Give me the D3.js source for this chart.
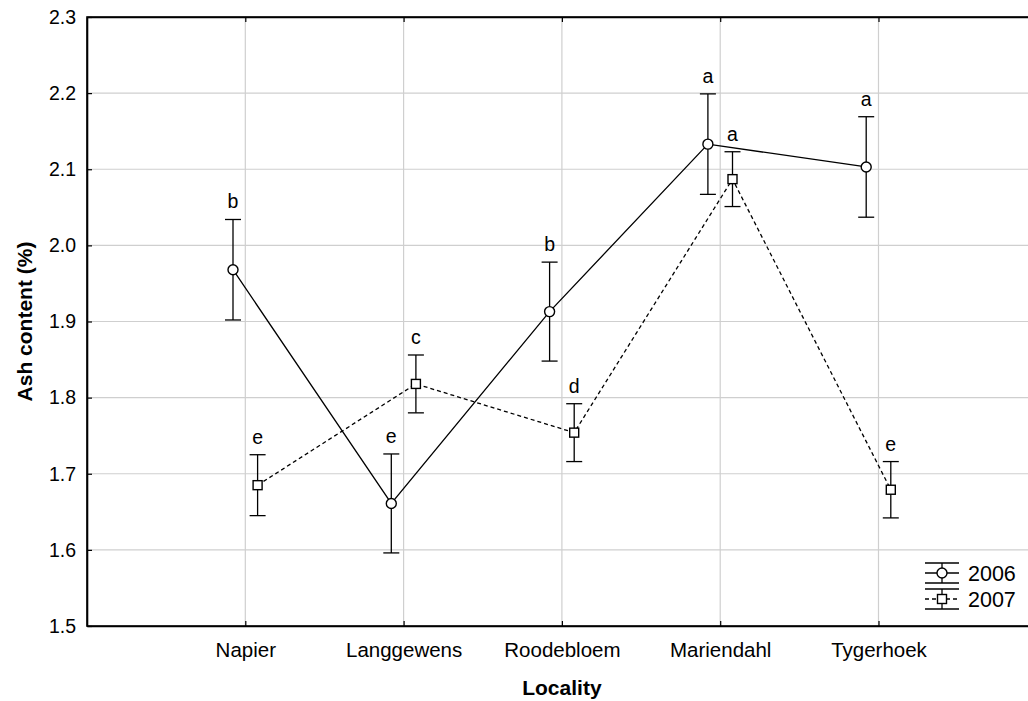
<!DOCTYPE html>
<html>
<head>
<meta charset="utf-8">
<script src="https://cdn.jsdelivr.net/npm/d3@7"></script>
<style>
  html, body { margin: 0; padding: 0; background: #fff; }
  svg { display: block; font-family: "Liberation Sans", Arial, sans-serif; }
</style>
</head>
<body>
<svg id="chart" width="1028" height="701"></svg>
<script>
// Localities along the x axis
const localities = ["Napier", "Langgewens", "Roodebloem", "Mariendahl", "Tygerhoek"];
const years = ["2006", "2007"];

// Mean ash content (%) per locality
const mean2006 = [1.968, 1.661, 1.913, 2.133, 2.103];
const mean2007 = [1.685, 1.818, 1.754, 2.087, 1.679];

// Error bar half-widths
const err2006 = [0.066, 0.065, 0.065, 0.066, 0.066];
const err2007 = [0.040, 0.038, 0.038, 0.036, 0.037];

// Significance letters above each bar
const letters2006 = ["b", "e", "b", "a", "a"];
const letters2007 = ["e", "c", "d", "a", "e"];

const yTicks = [1.5, 1.6, 1.7, 1.8, 1.9, 2.0, 2.1, 2.2, 2.3];

(function draw() {
  const svg = d3.select("#chart");
  const plotLeft = 87, plotTop = 17, plotBottom = 626;
  const step = 158.3;
  const plotRight = plotLeft + step * (localities.length + 1);

  const x = d3.scaleLinear().domain([0, localities.length + 1]).range([plotLeft, plotRight]);
  const y = d3.scaleLinear().domain([1.5, 2.3]).range([plotBottom, plotTop]);
  const offset = 12.3;

  // grid
  const grid = svg.append("g");
  grid.selectAll("line.h").data(yTicks.slice(1, -1)).join("line")
    .attr("x1", plotLeft).attr("x2", plotRight)
    .attr("y1", d => y(d)).attr("y2", d => y(d))
    .attr("stroke", "#cfcfcf").attr("stroke-width", 1.2);
  grid.selectAll("line.v").data(localities).join("line")
    .attr("x1", (d, i) => x(i + 1)).attr("x2", (d, i) => x(i + 1))
    .attr("y1", plotTop).attr("y2", plotBottom)
    .attr("stroke", "#cfcfcf").attr("stroke-width", 1.2);

  // axes (ticks pointing inward)
  const yAxis = d3.axisLeft(y).tickValues(yTicks).tickFormat(d3.format(".1f"))
    .tickSizeInner(-5).tickSizeOuter(0).tickPadding(11);
  const gy = svg.append("g").attr("transform", `translate(${plotLeft},0)`).call(yAxis);
  gy.selectAll("text").attr("font-size", 19.5).attr("fill", "#000");

  const xAxis = d3.axisBottom(x).tickValues(d3.range(1, localities.length + 1))
    .tickFormat(d => localities[d - 1]).tickSizeInner(-5).tickSizeOuter(0).tickPadding(14);
  const gx = svg.append("g").attr("transform", `translate(0,${plotBottom})`).call(xAxis);
  gx.selectAll("text").attr("font-size", 20.5).attr("fill", "#000").attr("dy", "0.85em");

  const xTop = d3.axisTop(x).tickValues(d3.range(1, localities.length + 1)).tickFormat("")
    .tickSizeInner(-5).tickSizeOuter(0);
  const gt = svg.append("g").attr("transform", `translate(0,${plotTop})`).call(xTop);

  [gy, gx, gt].forEach(g => g.selectAll("line").attr("stroke", "#000").attr("stroke-width", 1.2));
  svg.selectAll(".domain").attr("stroke", "#000").attr("stroke-width", 1.6);

  // frame
  svg.append("rect").attr("x", plotLeft).attr("y", plotTop)
    .attr("width", plotRight - plotLeft).attr("height", plotBottom - plotTop)
    .attr("fill", "none").attr("stroke", "#000").attr("stroke-width", 1.6);

  // axis titles
  svg.append("text").attr("x", (plotLeft + plotRight) / 2).attr("y", 688).attr("dy", "0.35em")
    .attr("text-anchor", "middle").attr("font-size", 21).attr("font-weight", "bold").text("Locality");
  svg.append("text").attr("transform", `translate(25,${(plotTop + plotBottom) / 2}) rotate(-90)`)
    .attr("dy", "0.35em").attr("text-anchor", "middle").attr("font-size", 21)
    .attr("font-weight", "bold").text("Ash content (%)");

  const series = [
    { means: mean2006, errs: err2006, letters: letters2006, dx: -offset, dash: null, shape: "circle" },
    { means: mean2007, errs: err2007, letters: letters2007, dx: offset, dash: "4,3", shape: "square" }
  ];

  const line = d3.line().x(d => d[0]).y(d => d[1]);

  function marker(g, shape, cx, cy) {
    if (shape === "circle") {
      g.append("circle").attr("cx", cx).attr("cy", cy).attr("r", 5)
        .attr("fill", "#fff").attr("stroke", "#000").attr("stroke-width", 1.4);
    } else {
      g.append("rect").attr("x", cx - 4.5).attr("y", cy - 4.5).attr("width", 9).attr("height", 9)
        .attr("fill", "#fff").attr("stroke", "#000").attr("stroke-width", 1.4);
    }
  }

  series.forEach(s => {
    const pts = s.means.map((m, i) => [x(i + 1) + s.dx, y(m)]);
    svg.append("path").attr("d", line(pts)).attr("fill", "none").attr("stroke", "#000")
      .attr("stroke-width", 1.3).attr("stroke-dasharray", s.dash);

    const g = svg.append("g");
    s.means.forEach((m, i) => {
      const cx = x(i + 1) + s.dx;
      const hi = y(m + s.errs[i]), lo = y(m - s.errs[i]);
      g.append("line").attr("x1", cx).attr("x2", cx).attr("y1", hi).attr("y2", lo)
        .attr("stroke", "#000").attr("stroke-width", 1.3);
      [hi, lo].forEach(yy => g.append("line").attr("x1", cx - 8).attr("x2", cx + 8)
        .attr("y1", yy).attr("y2", yy).attr("stroke", "#000").attr("stroke-width", 1.3));
      marker(g, s.shape, cx, y(m));
      g.append("text").attr("x", cx).attr("y", hi - 11).attr("text-anchor", "middle")
        .attr("font-size", 19.5).text(s.letters[i]);
    });
  });

  // legend
  const lg = svg.append("g");
  const lx0 = 925, lx1 = 959, lmid = (lx0 + lx1) / 2;
  const legendRows = [573, 599];
  legendRows.forEach((ly, k) => {
    const s = series[k];
    [ly - 10, ly + 10].forEach(yy => lg.append("line").attr("x1", lx0).attr("x2", lx1)
      .attr("y1", yy).attr("y2", yy).attr("stroke", "#000").attr("stroke-width", 1.3));
    lg.append("line").attr("x1", lmid).attr("x2", lmid).attr("y1", ly - 10).attr("y2", ly + 10)
      .attr("stroke", "#000").attr("stroke-width", 1.3);
    lg.append("line").attr("x1", lx0).attr("x2", lx1).attr("y1", ly).attr("y2", ly).attr("stroke", "#000")
      .attr("stroke-width", 1.3).attr("stroke-dasharray", s.dash);
    marker(lg, s.shape, lmid, ly);
    lg.append("text").attr("x", 968).attr("y", ly).attr("dy", "0.35em").attr("font-size", 21.5).text(years[k]);
  });
})();
</script>
</body>
</html>
